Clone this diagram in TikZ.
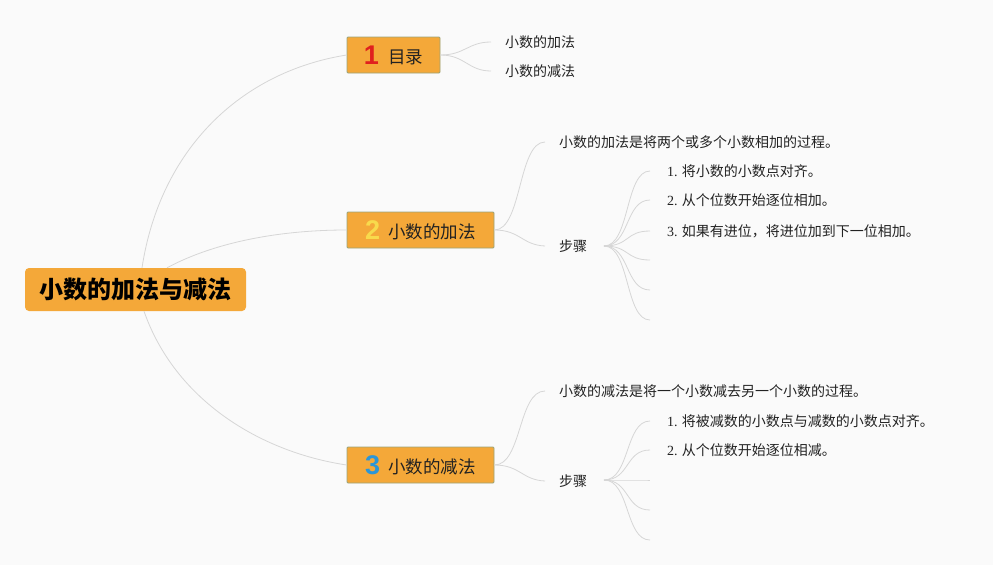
\documentclass[tikz,border=0pt]{standalone}
\usepackage{fontspec}
\setmainfont{Noto Sans CJK SC}
\newfontfamily\serif{Liberation Serif}
\newfontfamily\numf{Liberation Sans}
\usetikzlibrary{calc}
\definecolor{bg}{HTML}{FAFAFA}
\definecolor{ln}{HTML}{D6D6D6}
\definecolor{boxfill}{HTML}{F4A839}
\definecolor{boxline}{HTML}{9AA47A}
\definecolor{txt}{HTML}{222222}
\definecolor{nred}{HTML}{E0201E}
\definecolor{nyel}{HTML}{F8DA4C}
\definecolor{nblue}{HTML}{2B96D8}
\tikzset{
  conn/.style={draw=ln, line width=0.8pt},
  rootbox/.style={fill=boxfill, rounded corners=4pt, minimum width=221pt, minimum height=43pt, inner sep=0pt, text=black, font=\fontsize{24}{27}\selectfont\bfseries},
  topicbox/.style={fill=boxfill, draw=boxline, line width=0.8pt, rounded corners=1pt, minimum height=36pt, inner sep=0pt, text=txt, font=\fontsize{17.5}{20}\selectfont},
  leaf/.style={anchor=west, inner sep=0pt, text=txt, font=\fontsize{14}{16}\selectfont}
}
\newcommand{\topicnum}[2]{{\numf\fontsize{27}{28}\selectfont\bfseries\color{#1}#2}}
\begin{document}
\begin{tikzpicture}[x=1pt,y=-1pt]
\useasboundingbox (0,0) rectangle (993,565);
\fill[bg] (0,0) rectangle (993,565);

% main nodes
\node[rootbox] (root) at (135.5,289.5) {小数的加法与减法};
\node[topicbox, minimum width=93pt] (t1) at (393.5,55) {\raisebox{-1pt}{\topicnum{nred}{1}}\hspace{9pt}目录};
\node[topicbox, minimum width=147pt] (t2) at (420.5,230) {\raisebox{-1pt}{\topicnum{nyel}{2}}\hspace{8pt}小数的加法};
\node[topicbox, minimum width=147pt] (t3) at (420.5,465) {\raisebox{-1pt}{\topicnum{nblue}{3}}\hspace{8pt}小数的减法};

% leaves of 1
\node[leaf] (a1) at (505,42) {小数的加法};
\node[leaf] (a2) at (505,71) {小数的减法};

% leaves of 2
\node[leaf] (b1) at (559,142) {小数的加法是将两个或多个小数相加的过程。};
\node[leaf] (b2) at (559,246) {步骤};
\node[leaf] (b21) at (667,171) {{\serif 1.} 将小数的小数点对齐。};
\node[leaf] (b22) at (667,200) {{\serif 2.} 从个位数开始逐位相加。};
\node[leaf] (b23) at (667,231) {{\serif 3.} 如果有进位，将进位加到下一位相加。};
\coordinate (b2o) at (604,246);
\coordinate (b24) at (650,260);
\coordinate (b25) at (650,290);
\coordinate (b26) at (650,320);

% leaves of 3
\node[leaf] (c1) at (559,391) {小数的减法是将一个小数减去另一个小数的过程。};
\node[leaf] (c2) at (559,481) {步骤};
\node[leaf] (c21) at (667,421) {{\serif 1.} 将被减数的小数点与减数的小数点对齐。};
\node[leaf] (c22) at (667,450) {{\serif 2.} 从个位数开始逐位相减。};
\coordinate (c2o) at (604,480);
\coordinate (c23) at (650,480);
\coordinate (c24) at (650,510);
\coordinate (c25) at (650,540);

% root connectors
\draw[conn] ($(root.north)+(6.5,0)$) .. controls (160,150) and (240,72) .. (t1.west);
\draw[conn] ($(root.north)+(31.5,0)$) .. controls (215,242) and (280,230) .. (t2.west);
\draw[conn] ($(root.south)+(8.5,0)$) .. controls (175,400) and (260,452) .. (t3.west);

% topic 1 connectors
\draw[conn] (t1.east) .. controls (465,55) and (468,42) .. ($(a1.west)+(-14,0)$);
\draw[conn] (t1.east) .. controls (465,55) and (468,71) .. ($(a2.west)+(-14,0)$);

% topic 2 connectors
\draw[conn] (t2.east) .. controls (522,230) and (518,142) .. ($(b1.west)+(-14,0)$);
\draw[conn] (t2.east) .. controls (520,230) and (522,245) .. ($(b2.west)+(-14,0)$);
\foreach \t in {b21,b22,b23}{
  \draw[conn] (b2o) .. controls (630,246) and (625,0|-\t.west) .. ($(\t.west)+(-17,0)$);
}
\foreach \t in {b24,b25,b26}{
  \draw[conn] (b2o) .. controls (630,246) and (625,0|-\t) .. (\t);
}

% topic 3 connectors
\draw[conn] (t3.east) .. controls (522,465) and (518,391) .. ($(c1.west)+(-14,0)$);
\draw[conn] (t3.east) .. controls (520,465) and (522,480) .. ($(c2.west)+(-14,0)$);
\foreach \t in {c21,c22}{
  \draw[conn] (c2o) .. controls (630,480) and (625,0|-\t.west) .. ($(\t.west)+(-17,0)$);
}
\foreach \t in {c23,c24,c25}{
  \draw[conn] (c2o) .. controls (630,480) and (625,0|-\t) .. (\t);
}
\end{tikzpicture}
\end{document}
